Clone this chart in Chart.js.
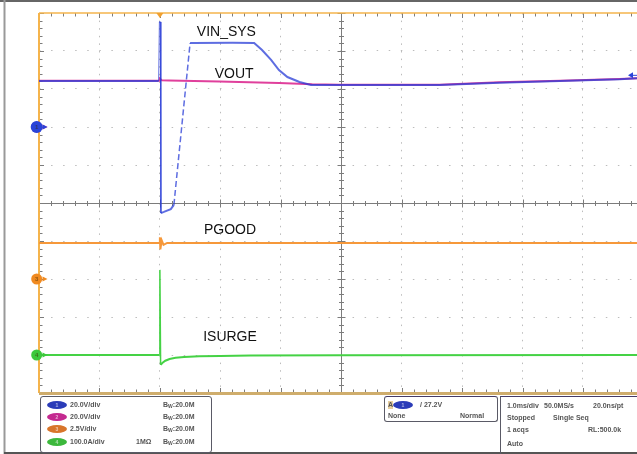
<!DOCTYPE html>
<html>
<head>
<meta charset="utf-8">
<script src="https://cdn.jsdelivr.net/npm/chart.js@4.4.0/dist/chart.umd.min.js"></script>
<style>
  body { margin: 0; background: #fff; }
  #wrap { position: relative; width: 637px; height: 454px; overflow: hidden; }
  canvas { position: absolute; left: 0; top: 0; }
  .box { position: absolute; border: 1px solid #5a5a66; border-radius: 3px; }
  .t { position: absolute; font: bold 7px "Liberation Sans", Arial, sans-serif; color: #555; white-space: nowrap; line-height: 8px; }
  .t sub { font-size: 5px; vertical-align: -1px; }
  .badge { position: absolute; width: 20px; height: 8px; border-radius: 50%; font: bold 5px "Liberation Sans", Arial, sans-serif; color: rgba(255,255,255,0.6); text-align: center; line-height: 8px; }
</style>
</head>
<body>
<div id="wrap">
  <canvas id="scope" width="637" height="454"></canvas>
  <div id="panel"></div>
</div>
<script>
// time in ms relative to the trigger, 1.0 ms/div
const vinT = [-2.0, -1.0, -0.02, -0.008, 0.008, 0.017, 0.066, 0.18, 0.232, 0.50, 0.56, 1.20, 1.56, 1.69, 1.84, 1.97, 2.11, 2.31, 2.50, 2.97, 4.63, 5.62, 6.62, 7.61, 7.894];
const vinV = [24.2, 24.2, 24.2, 55.3, 55.3, -45.3, -44.7, -43.2, -41.0, 44.2, 44.2, 44.3, 44.2, 40.5, 35.3, 30.0, 26.3, 23.7, 22.1, 22.1, 22.1, 23.3, 24.2, 25.1, 25.6];

const voutT = [-2.0, -0.01, 0.0, 0.03, 0.15, 0.98, 1.97, 2.52, 2.97, 4.63, 5.62, 6.62, 7.61, 7.894];
const voutV = [24.3, 24.3, 25.4, 24.6, 24.5, 23.9, 23.2, 22.5, 22.3, 22.3, 23.5, 24.4, 25.2, 25.6];

const pgoodT = [-2.0, -0.01, 0.0, 0.008, 0.03, 0.06, 0.12, 7.894];
const pgoodV = [2.37, 2.37, 2.75, 1.95, 2.55, 2.25, 2.37, 2.37];

const isurgeT = [-2.0, -0.01, 0.0, 0.012, 0.04, 0.09, 0.16, 0.26, 0.40, 0.65, 1.0, 1.5, 3.0, 7.894];
const isurgeA = [0, 0, 224, -26, -21, -15, -10.5, -7.5, -5.3, -3.4, -2.4, -1.6, -0.5, 0];

const traceLabels = ['VIN_SYS', 'VOUT', 'PGOOD', 'ISURGE'];
const chScale = ['20.0V/div', '20.0V/div', '2.5V/div', '100.0A/div'];
const chPerDiv = [20, 20, 2.5, 100];
const chGround = [2, 2, -2, -4];      // ground marker position, divisions from centre
const trigLevel = 27.2;

const chColor = ['rgba(40,60,215,0.75)', '#e0409c', '#f6983a', '#45d245'];
const markColor = ['#2a44d8', '#d0308f', '#f08a20', '#3cc83c'];
const badgeColor = ['#2b3cb8', '#c42a90', '#d8752a', '#3cb83c'];

// label anchors (ms, div)
const labelPos = [[1.10, 4.50], [1.23, 3.39], [1.16, -0.71], [1.16, -3.53]];

const pts = (t, v) => t.map((x, i) => ({ x: x, y: v[i] }));
const chAxis = i => ({ display: false, min: (-5 - chGround[i]) * chPerDiv[i], max: (5 - chGround[i]) * chPerDiv[i] });

function seg(ctx, x1, y1, x2, y2) { ctx.beginPath(); ctx.moveTo(x1, y1); ctx.lineTo(x2, y2); ctx.stroke(); }

const scopeDeco = {
  id: 'scopeDeco',
  beforeDraw(chart) {
    const ctx = chart.ctx;
    ctx.save();
    ctx.fillStyle = '#fff';
    ctx.fillRect(0, 0, 637, 454);
    ctx.strokeStyle = '#666'; ctx.lineWidth = 2;
    seg(ctx, 0, 1, 637, 1);
    ctx.strokeStyle = '#999';
    seg(ctx, 4.5, 0, 4.5, 454);
    ctx.strokeStyle = '#555';
    seg(ctx, 4, 453, 637, 453);
    ctx.restore();
  },
  beforeDatasetsDraw(chart) {
    const { ctx, chartArea: a, scales: { x, y } } = chart;
    const cx = Math.round(x.getPixelForValue(3)) + 0.5;
    const cy = Math.round(y.getPixelForValue(0)) + 0.5;
    ctx.save();
    ctx.strokeStyle = '#7c7c7c'; ctx.lineWidth = 1;
    seg(ctx, cx, a.top, cx, a.bottom);
    seg(ctx, a.left, cy, a.right, cy);
    for (let i = 0; i <= 50; i++) {
      const px = Math.round(x.getPixelForValue(-2 + i * 0.2)) + 0.5;
      if (px > a.right) break;
      const big = i % 5 === 0 ? 4 : 2.5;
      seg(ctx, px, cy - big, px, cy + big);
      seg(ctx, px, a.top, px, a.top + big + 1);
      seg(ctx, px, a.bottom - big - 1, px, a.bottom);
    }
    for (let i = 0; i <= 50; i++) {
      const py = Math.round(y.getPixelForValue(-5 + i * 0.2)) + 0.5;
      const big = i % 5 === 0 ? 4 : 2.5;
      seg(ctx, cx - big, py, cx + big, py);
      seg(ctx, a.left, py, a.left + big + 1, py);
    }
    ctx.strokeStyle = '#f5b44c';
    ctx.lineWidth = 2;
    seg(ctx, a.left, a.top, a.left, a.bottom);
    ctx.lineWidth = 1.5;
    seg(ctx, a.left, a.top, a.right, a.top);
    ctx.strokeStyle = '#cfad6c'; ctx.lineWidth = 3;
    seg(ctx, a.left, a.bottom + 0.5, a.right, a.bottom + 0.5);
    ctx.restore();
  },
  afterDatasetsDraw(chart) {
    const { ctx, chartArea: a, scales: { x, y } } = chart;
    ctx.save();
    // trace labels
    ctx.fillStyle = '#111';
    ctx.font = '14px "Liberation Sans", Arial, sans-serif';
    ctx.textAlign = 'center'; ctx.textBaseline = 'middle';
    traceLabels.forEach((lab, i) => {
      ctx.fillText(lab, x.getPixelForValue(labelPos[i][0]), y.getPixelForValue(labelPos[i][1]));
    });
    // trigger position marker
    const tx = x.getPixelForValue(0);
    ctx.fillStyle = '#f0a030';
    ctx.beginPath(); ctx.moveTo(tx - 3.5, a.top); ctx.lineTo(tx + 3.5, a.top); ctx.lineTo(tx, a.top + 5); ctx.closePath(); ctx.fill();
    // trigger level marker
    const ty = chart.scales.y1.getPixelForValue(trigLevel);
    ctx.fillStyle = markColor[0]; ctx.strokeStyle = markColor[0]; ctx.lineWidth = 1;
    ctx.beginPath(); ctx.moveTo(a.right - 9, ty); ctx.lineTo(a.right - 4, ty - 3); ctx.lineTo(a.right - 4, ty + 3); ctx.closePath(); ctx.fill();
    seg(ctx, a.right - 5, ty, a.right, ty);
    // channel ground markers (ch2 sits under ch1)
    [1, 0, 2, 3].forEach(i => {
      const py = y.getPixelForValue(chGround[i]);
      const r = i === 0 ? 6 : 5.5;
      ctx.fillStyle = markColor[i];
      ctx.beginPath(); ctx.arc(a.left - 2.3, py, r, 0, Math.PI * 2); ctx.fill();
      ctx.beginPath(); ctx.moveTo(a.left + 3.5, py - 2.5); ctx.lineTo(a.left + 8.5, py); ctx.lineTo(a.left + 3.5, py + 2.5); ctx.closePath(); ctx.fill();
      ctx.fillStyle = 'rgba(60,40,0,0.55)';
      ctx.font = 'bold 6px "Liberation Sans", Arial, sans-serif';
      ctx.fillText(String(i + 1), a.left - 2.3, py + 0.5);
    });
    ctx.restore();
  }
};

new Chart(document.getElementById('scope'), {
  type: 'line',
  data: {
    datasets: [
      {
        label: traceLabels[0], data: pts(vinT, vinV), yAxisID: 'y1',
        borderColor: chColor[0], borderWidth: 2, pointRadius: 0, tension: 0,
        segment: {
          borderDash: c => c.p0DataIndex === 8 ? [6, 3] : undefined,
          borderWidth: c => (c.p0DataIndex === 2 || c.p0DataIndex === 4) ? 1 : (c.p0DataIndex === 8 ? 1.5 : undefined)
        }
      },
      { label: traceLabels[1], data: pts(voutT, voutV), yAxisID: 'y1', borderColor: chColor[1], borderWidth: 2, pointRadius: 0, tension: 0 },
      { label: traceLabels[2], data: pts(pgoodT, pgoodV), yAxisID: 'y3', borderColor: chColor[2], borderWidth: 2, pointRadius: 0, tension: 0 },
      {
        label: traceLabels[3], data: pts(isurgeT, isurgeA), yAxisID: 'y4', borderColor: chColor[3], borderWidth: 2, pointRadius: 0, tension: 0,
        segment: { borderWidth: c => c.p0DataIndex === 1 || c.p0DataIndex === 2 ? 1.5 : undefined }
      }
    ]
  },
  options: {
    responsive: false,
    animation: false,
    devicePixelRatio: 1,
    layout: { padding: { left: 39, top: 13, right: 0, bottom: 61 } },
    plugins: { legend: { display: false }, tooltip: { enabled: false } },
    scales: {
      x: {
        type: 'linear', min: -2, max: 7.894,
        afterFit: s => { s.height = 0; },
        afterBuildTicks: s => { s.ticks = [-2, -1, 0, 1, 2, 3, 4, 5, 6, 7].map(v => ({ value: v })); },
        ticks: { display: false },
        grid: { color: '#bcbcbc', drawTicks: false, lineWidth: 1 },
        border: { display: false, dash: [1.5, 6.1] }
      },
      y: {
        type: 'linear', min: -5, max: 5,
        afterFit: s => { s.width = 0; },
        afterBuildTicks: s => { s.ticks = [-4, -3, -2, -1, 1, 2, 3, 4].map(v => ({ value: v })); },
        ticks: { display: false },
        grid: { color: '#bcbcbc', drawTicks: false, lineWidth: 1 },
        border: { display: false, dash: [1.5, 10.56] }
      },
      y1: chAxis(0),
      y3: chAxis(2),
      y4: chAxis(3)
    }
  },
  plugins: [scopeDeco]
});

// info panel under the graticule
const panel = document.getElementById('panel');
function add(cls, left, top, html, extra) {
  const d = document.createElement('div');
  d.className = cls;
  d.style.left = left + 'px';
  d.style.top = top + 'px';
  if (html) d.innerHTML = html;
  if (extra) Object.assign(d.style, extra);
  panel.appendChild(d);
  return d;
}
add('box', 40, 396, '', { width: '170px', height: '55px' });
const rowY = [401, 413, 425, 438];
chScale.forEach((s, i) => {
  add('badge', 47, rowY[i], String(i + 1), { background: badgeColor[i] });
  add('t', 70, rowY[i], s);
  add('t', 163, rowY[i], 'B<sub>W</sub>:20.0M');
});
add('t', 136, rowY[3], '1M&Omega;');

add('box', 384, 396, '', { width: '112px', height: '24px', borderTopColor: '#443a66' });
add('t', 388, 401, 'A', { background: '#e8cfa0' });
add('badge', 393, 401, '1', { background: badgeColor[0] });
add('t', 420, 401, '/ 27.2V');
add('t', 388, 412, 'None');
add('t', 460, 412, 'Normal');

add('box', 500, 396, '', { width: '160px', height: '70px', borderRadius: '0', borderTopColor: '#443a66' });
add('t', 507, 402, '1.0ms/div');
add('t', 544, 402, '50.0MS/s');
add('t', 593, 402, '20.0ns/pt');
add('t', 507, 414, 'Stopped');
add('t', 553, 414, 'Single Seq');
add('t', 507, 426, '1 acqs');
add('t', 588, 426, 'RL:500.0k');
add('t', 507, 440, 'Auto');
</script>
</body>
</html>
